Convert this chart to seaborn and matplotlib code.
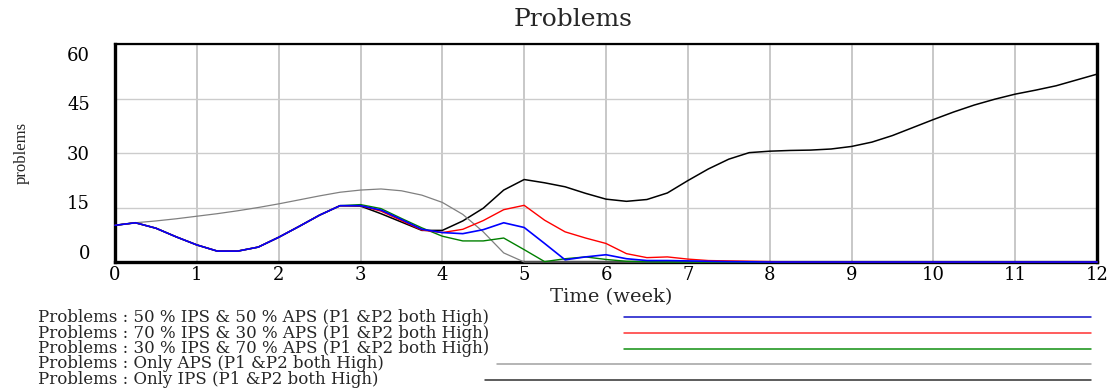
import numpy as np
import pandas as pd
import seaborn as sns
import matplotlib
matplotlib.use("Agg")
import matplotlib.pyplot as plt
from matplotlib.lines import Line2D
from matplotlib.transforms import ScaledTranslation

# ---------------- data ----------------
time = [i * 0.25 for i in range(49)]  # 0 .. 12 weeks, step 0.25

common_start = [10.1, 10.8, 9.3, 6.9, 4.7, 3.0, 3.0, 4.1, 6.8, 9.8, 12.9, 15.5]

s50_50 = common_start + [15.5, 14.3, 11.7, 9.0, 8.1, 7.8, 8.9, 10.8, 9.5, 5.1, 0.6, 1.4,
                         2.0, 0.9, 0.4, 0.4, 0.3, 0.2, 0.1, 0.05] + [0.0] * 17
s70_30 = common_start + [15.5, 14.0, 11.4, 8.8, 8.1, 9.0, 11.4, 14.4, 15.6, 11.5, 8.3, 6.6,
                         5.1, 2.3, 1.2, 1.4, 0.8, 0.4, 0.3, 0.2, 0.1, 0.05] + [0.0] * 15
s30_70 = common_start + [15.8, 14.7, 12.0, 9.4, 7.1, 5.8, 5.8, 6.6, 3.4, 0.1, 0.9, 1.4,
                         0.7, 0.2, 0.1] + [0.0] * 22
only_aps = [10.1, 10.8, 11.3, 11.9, 12.6, 13.3, 14.1, 15.0, 16.0, 17.1, 18.2, 19.2,
            19.8, 20.1, 19.6, 18.4, 16.4, 13.1, 8.3, 2.5, 0.0] + [0.0] * 28
only_ips = common_start + [15.4, 13.3, 11.0, 8.7, 8.7, 11.3, 14.8, 19.8, 22.7, 21.8, 20.7, 18.9,
                           17.3, 16.7, 17.2, 19.0, 22.4, 25.6, 28.3, 30.1, 30.5, 30.7, 30.8, 31.1,
                           31.8, 33.0, 34.8, 37.0, 39.2, 41.3, 43.2, 44.8, 46.2, 47.3, 48.5, 50.1,
                           51.7]

labels = [
    "Problems : 50 % IPS & 50 % APS (P1 &P2 both High)",
    "Problems : 70 % IPS & 30 % APS (P1 &P2 both High)",
    "Problems : 30 % IPS & 70 % APS (P1 &P2 both High)",
    "Problems : Only APS (P1 &P2 both High)",
    "Problems : Only IPS (P1 &P2 both High)",
]
series = [s50_50, s70_30, s30_70, only_aps, only_ips]
colors = ["#0000ff", "#ff0000", "#008000", "#808080", "#000000"]
legend_colors = ["#1010c8", "#ff3030", "#109010", "#a0a0a0", "#303030"]
widths = [1.2, 1.0, 1.0, 0.9, 1.1]

x_ticks = list(range(13))
y_ticks = [0, 15, 30, 45, 60]

df = pd.concat(
    [pd.DataFrame({"time": time, "value": v, "series": lab}) for lab, v in zip(labels, series)],
    ignore_index=True,
)

# ---------------- figure ----------------
sns.set_theme(style="white")
plt.rcParams["font.family"] = ["DejaVu Serif"]

W, H = 1116, 390
fig = plt.figure(figsize=(W / 100, H / 100), dpi=100)
ax = fig.add_axes([115 / W, 1 - 262 / H, (1097 - 115) / W, (262 - 44) / H])

# draw back to front: black, gray, green, red, blue on top
for idx in [4, 3, 2, 1, 0]:
    sub = df[df["series"] == labels[idx]]
    sns.lineplot(data=sub, x="time", y="value", color=colors[idx], lw=widths[idx],
                 ax=ax, legend=False, sort=False, estimator=None)
for ln in ax.lines:
    ln.set_zorder(3)
    ln.set_clip_on(False)

ax.set_xlim(0, 12)
ax.set_ylim(0, 60)
ax.set_xticks(x_ticks)
ax.set_xticklabels([str(t) for t in x_ticks])
ax.set_yticks(y_ticks)
ax.set_yticklabels([str(t) for t in y_ticks])
ax.grid(True, axis="x", color="#c4c4c4", lw=1.3)
ax.grid(True, axis="y", color="#cccccc", lw=1.0)
ax.set_axisbelow(True)
ax.tick_params(axis="both", length=0, labelsize=13, colors="black")
ax.tick_params(axis="x", pad=3)
ax.tick_params(axis="y", pad=18)
ax.set_xlabel("")
ax.set_ylabel("")

for side in ["left", "bottom", "right"]:
    ax.spines[side].set_color("black")
    ax.spines[side].set_linewidth(2.4)
ax.spines["top"].set_color("black")
ax.spines["top"].set_linewidth(1.6)

# Vensim-style vertical drift of y tick labels
for val, lab in zip(y_ticks, ax.get_yticklabels()):
    dy = (30 - val) / 3.0 * 0.72  # points
    lab.set_transform(lab.get_transform() + ScaledTranslation(0, dy / 72, fig.dpi_scale_trans))

# titles
fig.text(573 / W, 1 - 20 / H, "Problems", ha="center", va="center", fontsize=18)
fig.text(611 / W, 1 - 297 / H, "Time (week)", ha="center", va="center", fontsize=14)
fig.text(22 / W, 1 - 153 / H, "problems", ha="center", va="center", rotation=90,
         fontsize=12, family=["Liberation Serif"])

# legend (text, then a line)
rows = [317, 333, 348.5, 364, 379.5]
line_starts = [624, 624, 624, 497, 485]
for lab, col, y, xs in zip(labels, legend_colors, rows, line_starts):
    fig.text(38 / W, 1 - y / H, lab, ha="left", va="center", fontsize=12)
    fig.add_artist(Line2D([xs / W, 1091 / W], [1 - y / H, 1 - y / H],
                          transform=fig.transFigure, color=col, lw=1.1))

fig.savefig("out.png", dpi=100)
